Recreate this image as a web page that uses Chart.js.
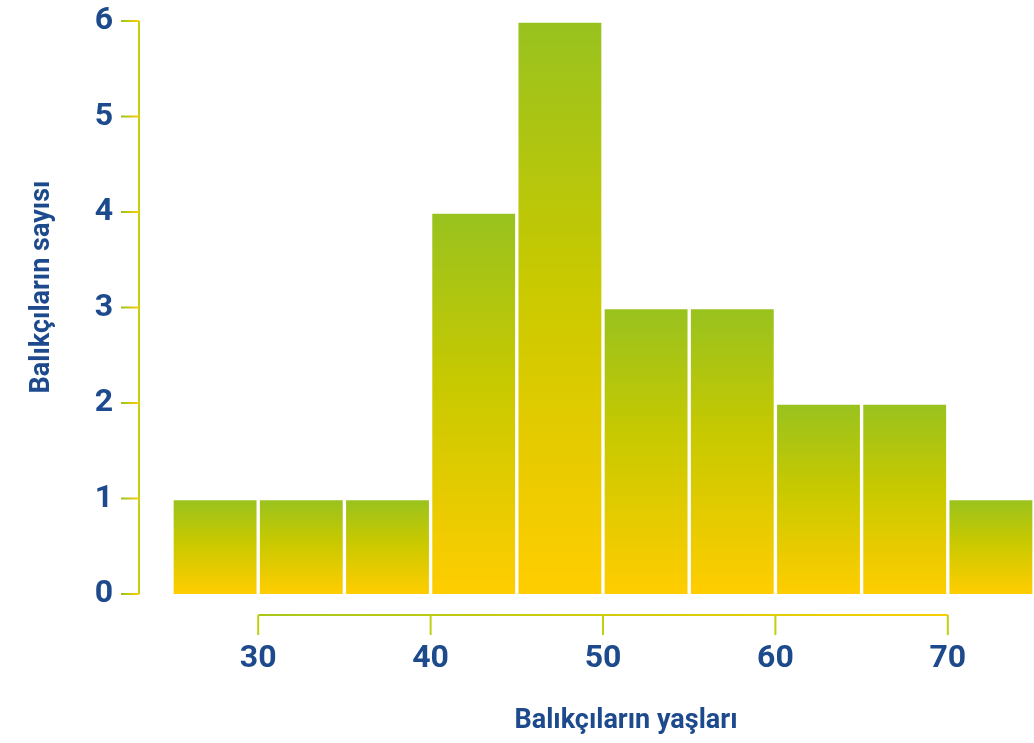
<!DOCTYPE html>
<html>
<head>
<meta charset="utf-8">
<script src="https://cdn.jsdelivr.net/npm/chart.js@4"></script>
<style>
  html, body { margin: 0; padding: 0; background: #fff; }
  #wrap { width: 1034px; height: 743px; }
</style>
</head>
<body>
<div id="wrap"><canvas id="histChart" width="1034" height="743"></canvas></div>
<script>
// Histogram data (age bins of 5 years)
const binStarts = [25, 30, 35, 40, 45, 50, 55, 60, 65, 70];
const counts = [1, 1, 1, 4, 6, 3, 3, 2, 2, 1];
const binWidth = 5;
const xTicks = [30, 40, 50, 60, 70];
const yTicks = [0, 1, 2, 3, 4, 5, 6];
const xTitle = 'Balıkçıların yaşları';
const yTitle = 'Balıkçıların sayısı';

const textColor = '#1d4a8c';
const green = '#98c21f';
const mid = '#c8c900';
const yellow = '#ffcd00';
const font = 'Roboto';

// Axis lines and titles are drawn detached from the plot area, like the original
const detachedAxes = {
    id: 'detachedAxes',
    afterDraw(chart) {
        const { ctx, chartArea, scales: { x, y } } = chart;
        ctx.save();
        ctx.lineWidth = 2;

        // y axis
        const ax = chartArea.left - 33;
        ctx.strokeStyle = '#c4d00f';
        ctx.beginPath();
        ctx.moveTo(ax, y.getPixelForValue(yTicks[yTicks.length - 1]));
        ctx.lineTo(ax, y.getPixelForValue(yTicks[0]));
        ctx.stroke();
        yTicks.forEach(v => {
            const py = y.getPixelForValue(v);
            const g = ctx.createLinearGradient(ax - 18, 0, ax, 0);
            g.addColorStop(0, green);
            g.addColorStop(1, yellow);
            ctx.strokeStyle = g;
            ctx.beginPath();
            ctx.moveTo(ax - 18, py);
            ctx.lineTo(ax, py);
            ctx.stroke();
        });

        // x axis
        const ay = chartArea.bottom + 21;
        const x0 = x.getPixelForValue(xTicks[0]);
        const x1 = x.getPixelForValue(xTicks[xTicks.length - 1]);
        const gx = ctx.createLinearGradient(x0, 0, x1, 0);
        gx.addColorStop(0, '#a8c81a');
        gx.addColorStop(1, '#f8cf00');
        ctx.strokeStyle = gx;
        ctx.beginPath();
        ctx.moveTo(x0, ay);
        ctx.lineTo(x1, ay);
        ctx.stroke();
        xTicks.forEach(v => {
            const px = x.getPixelForValue(v);
            ctx.strokeStyle = '#c0cf12';
            ctx.beginPath();
            ctx.moveTo(px, ay);
            ctx.lineTo(px, ay + 20);
            ctx.stroke();
        });

        // axis titles
        ctx.fillStyle = textColor;
        ctx.font = `bold 27px ${font}`;
        ctx.textAlign = 'center';
        ctx.textBaseline = 'middle';
        ctx.fillText(xTitle, 626, 721);
        ctx.translate(42, 287);
        ctx.rotate(-Math.PI / 2);
        ctx.fillText(yTitle, 0, 0);
        ctx.restore();
    }
};

function barGradient(context) {
    const chart = context.chart;
    const { chartArea, scales } = chart;
    if (!chartArea || context.type !== 'data') return mid;
    const top = scales.y.getPixelForValue(context.parsed.y);
    const bottom = scales.y.getPixelForValue(0);
    const g = chart.ctx.createLinearGradient(0, top, 0, bottom);
    g.addColorStop(0, green);
    g.addColorStop(0.45, mid);
    g.addColorStop(1, yellow);
    return g;
}

const ctx = document.getElementById('histChart').getContext('2d');
new Chart(ctx, {
    type: 'bar',
    data: {
        datasets: [{
            data: binStarts.map((b, i) => ({ x: b + binWidth / 2, y: counts[i] })),
            backgroundColor: barGradient,
            borderColor: '#ffffff',
            borderWidth: 2,
            barPercentage: 1,
            categoryPercentage: 1
        }]
    },
    options: {
        responsive: false,
        animation: false,
        layout: { padding: { top: 21, right: 0, left: 0, bottom: 0 } },
        plugins: {
            legend: { display: false },
            tooltip: { enabled: false }
        },
        scales: {
            x: {
                type: 'linear',
                offset: false,
                min: 25,
                max: 75,
                afterBuildTicks: s => { s.ticks = xTicks.map(v => ({ value: v })); },
                afterFit: s => { s.height = 149; },
                // invisible tick marks only used to push the labels down
                grid: { display: false, drawTicks: true, tickLength: 42 },
                border: { display: false },
                ticks: {
                    padding: 4,
                    color: textColor,
                    font: { family: font, size: 32, weight: 'bold' }
                }
            },
            y: {
                min: 0,
                max: 6,
                afterBuildTicks: s => { s.ticks = yTicks.map(v => ({ value: v })); },
                afterFit: s => { s.width = 172; },
                grid: { display: false, drawTicks: true, tickLength: 58 },
                border: { display: false },
                ticks: {
                    padding: 1,
                    color: textColor,
                    font: { family: font, size: 32, weight: 'bold' }
                }
            }
        }
    },
    plugins: [detachedAxes]
});
</script>
</body>
</html>
